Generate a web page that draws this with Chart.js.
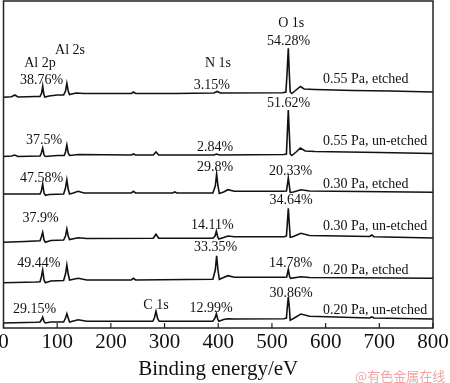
<!DOCTYPE html>
<html>
<head>
<meta charset="utf-8">
<script src="https://cdn.jsdelivr.net/npm/chart.js@4/dist/chart.umd.min.js"></script>
<style>
  html,body{margin:0;padding:0;background:#fff;}
  #wrap{position:relative;width:450px;height:383px;}
  #wm{position:absolute;left:355px;top:366px;font:13px "Noto Sans CJK SC",sans-serif;color:#f2a4a4;white-space:nowrap;}
</style>
</head>
<body>
<div id="wrap">
<canvas id="c" width="450" height="383"></canvas>
<div id="wm">@有色金属在线</div>
</div>
<script>
// Binding energy (eV) sample points and intensity (a.u., stacked) for each spectrum
const e1 = [0,15,21,27,60,68,71,73,75,77,85,100,112,115.5,118,120.5,123,135,150,238,242,246,320,392,398,404,520,526,528,530.5,532.5,534,537,545,553,560,580,650,720,800];
const v1 = [230.7,231.2,233,231,231.5,231.5,235,242,234,231,232,233,233,237,244.7,237,233.5,235,234.5,234.5,236,234.5,234.5,235,236.5,235,235.3,236,253,279.7,253,236,234.5,238,241.5,239,238.5,237.5,237,236];

const e2 = [0,15,21,27,68,70.5,73,75.5,78,100,113,115.5,118,120.5,123,140,238,242,246,279,284,289,392,397,402,522,527,528.5,530.5,532.5,534,537,545,553,562,580,700,800];
const v2 = [171.5,172,173,171.5,172,175,180,173,171.5,172.5,172.5,176,183,175,172.5,173.5,173,174,173,173,176,173,173,174,173,173.5,174,193,218,193,174,172.5,176,180,177,176.5,175.5,174.5];

const e3 = [0,60,68,70.5,73,75.5,78,85,112,115.5,118,120.5,123,130,139,150,238,242,246,315,319,323,390,394.5,397,399.5,402,410,418,430,520,527,528.5,530.5,532.5,534,540,554,570,800];
const v3 = [134,134,134,137,144,135,132.7,133.5,134,140,148.3,139,134,135,136.7,135,135,136.7,135,135,136,135,135,142,154,142,134.5,136,138.3,136.7,136.7,137,142,150,142,135.7,136,138.3,137,135.7];

const e4 = [0,40,68,70.5,73,75.5,78,88,112,115.5,118,120.5,123,139,155,279,284,289,390,394,396.5,399,401,410,418,430,523,527,528.5,530.5,532.5,534,540,554,570,682,686,690,800];
const v4 = [85.7,86.5,87.3,91,95.7,88,85.7,87.5,88,92,99,92,88.5,90.3,89.5,89.7,93.7,89.7,89.7,92,97,91,89,90.5,92,91.3,91.3,92,103,119.7,103,90.7,91.5,94.7,92.5,91.5,93,91.3,90];

const e5 = [0,60,68,70.5,73,75.5,78,88,112,115.5,118,120.5,123,139,155,238,242,246,390,394.5,397,399.5,402,410,418,430,523,527.5,530.5,533,535,554,570,800];
const v5 = [45.3,46,46.3,51,58,48,45.3,47,47.5,54,63,54,48,49.7,48,48,49.7,48,48.7,58,72.3,58,48.7,50.5,52.3,50.7,50.7,51,58.5,51,49.7,51.3,50.5,49.7];

const e6 = [0,60,68,70.5,73,75.5,78,88,112,115.5,118,120.5,123,139,155,278,281,284,287,290,390,394,396.5,399,401,410,418,430,522,527,528.5,530.5,532.5,534,540,554,570,682,686,690,800];
const v6 = [5,5.7,6,8,11,6.5,5,6,6,10,14.3,10,6,8.3,6.7,6.7,10,16.7,9.5,6.7,6.7,10,14.3,9,6.7,8.5,9.3,9,9.3,10,20,31,20,7.7,9.5,14,11.7,10,11,10,9];

const xTicks = [0,100,200,300,400,500,600,700,800];

// Peak annotations: text, energy, intensity
const annText = ["Al 2p","Al 2s","38.76%","N 1s","3.15%","O 1s","54.28%",
  "51.62%","37.5%","2.84%",
  "47.58%","29.8%","20.33%",
  "34.64%","37.9%","14.11%",
  "49.44%","33.35%","14.78%",
  "30.86%","29.15%","C 1s","12.99%"];
const annE = [68,124,71,399.5,388,536,531, 531,75.5,394, 71,394,534.5, 535.5,69,389, 66,395,534.5, 535.5,58,284,386.5];
const annV = [265,278,248,264.5,243,305,287, 225,187.5,180.5, 150,161,157, 128,110,103, 65,80.5,65, 35,18.5,22.5,19.5];

// Sample labels (left-aligned)
const sampleText = ["0.55 Pa, etched","0.55 Pa, un-etched","0.30 Pa, etched","0.30 Pa, un-etched","0.20 Pa, etched","0.20 Pa, un-etched"];
const sampleE = [595,595,595,595,595,595];
const sampleV = [248.5,186.5,144,102,58,18];

const series = [[e1,v1],[e2,v2],[e3,v3],[e4,v4],[e5,v5],[e6,v6]];
const SERIF = '"Liberation Serif","Times New Roman",serif';

const overlay = {
  id:'overlay',
  afterDatasetsDraw(chart){
    const {ctx, scales:{x,y}} = chart;
    ctx.save();
    ctx.fillStyle = '#111';
    ctx.font = '14px ' + SERIF;
    ctx.textBaseline = 'middle';
    ctx.textAlign = 'center';
    annText.forEach((t,i)=>ctx.fillText(t, x.getPixelForValue(annE[i]), y.getPixelForValue(annV[i])));
    ctx.textAlign = 'left';
    sampleText.forEach((t,i)=>ctx.fillText(t, x.getPixelForValue(sampleE[i]), y.getPixelForValue(sampleV[i])));
    ctx.restore();
  },
  afterDraw(chart){
    const {ctx, chartArea:a, scales:{x}} = chart;
    ctx.save();
    ctx.strokeStyle = '#222';
    ctx.lineWidth = 1.5;
    ctx.strokeRect(a.left, a.top, a.right-a.left, a.bottom-a.top);
    ctx.lineWidth = 1.2;
    ctx.beginPath();
    xTicks.forEach(v=>{
      const px = x.getPixelForValue(v);
      ctx.moveTo(px, a.bottom);
      ctx.lineTo(px, a.bottom-5);
    });
    ctx.stroke();
    ctx.restore();
  }
};

new Chart(document.getElementById('c'), {
  type:'line',
  data:{
    datasets: series.map(([e,v])=>({
      data: e.map((xx,i)=>({x:xx, y:v[i]})),
      borderColor:'#111', borderWidth:1.6, pointRadius:0, tension:0, fill:false
    }))
  },
  options:{
    responsive:false, animation:false,
    layout:{padding:{left:3.5,right:17,top:1,bottom:0}},
    plugins:{legend:{display:false}, tooltip:{enabled:false}},
    scales:{
      x:{
        type:'linear', min:0, max:800,
        afterBuildTicks(s){ s.ticks = xTicks.map(v=>({value:v})); },
        ticks:{font:{family:SERIF,size:21}, color:'#111', padding:1.5, maxRotation:0, autoSkip:false},
        grid:{display:false, drawTicks:false},
        border:{display:false},
        title:{display:true, text:'Binding energy/eV', font:{family:SERIF,size:21}, color:'#111', padding:{top:1.7,bottom:1.4}},
        afterFit(s){ s.paddingLeft = 0; s.paddingRight = 0; s.height = 55; }
      },
      y:{display:false, min:0, max:327}
    }
  },
  plugins:[overlay]
});
</script>
</body>
</html>
